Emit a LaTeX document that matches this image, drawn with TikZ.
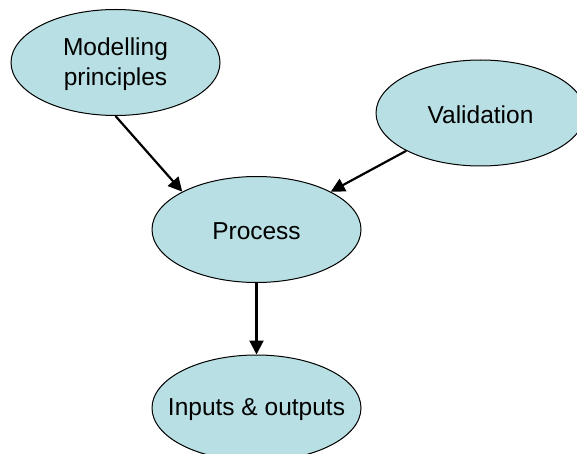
\documentclass[tikz,border=0pt]{standalone}
\usepackage{fontspec}
\setmainfont{Liberation Sans}
\usetikzlibrary{shapes.geometric,arrows.meta}
\begin{document}
\begin{tikzpicture}[x=1pt,y=-1pt,
  bubble/.style={ellipse,draw=black,line width=1pt,fill=ellfill,minimum width=209pt,minimum height=106pt,inner sep=0pt},
  txt/.style={font=\fontsize{24.5}{30}\selectfont,align=center,inner sep=0pt,yshift=-2pt},
  conn/.style={line width=2.2pt,-{Triangle[length=14pt,width=14pt]}}]
\definecolor{ellfill}{HTML}{B8DFE3}
\path[use as bounding box] (0,0) rectangle (577,454);
\begin{scope}
\clip (0,0) rectangle (577,454);
\node[bubble] (mp) at (115.5,62.5) {};
\node[bubble] (val) at (480.5,113) {};
\node[bubble] (proc) at (256.5,229.5) {};
\node[bubble] (io) at (256.5,408) {};
\end{scope}
\node[txt] (mpt) at (mp) {Modelling\\principles};
\node[txt] (valt) at (val) {Validation};
\node[txt] (proct) at (proc) {Process};
\node[txt] (iot) at (io) {Inputs \& outputs};
\draw[conn] (mp.south) -- (proc.153);
\draw[conn] (val.207) -- (proc.27);
\draw[conn] (proc.south) -- (io.north);
\end{tikzpicture}
\end{document}
